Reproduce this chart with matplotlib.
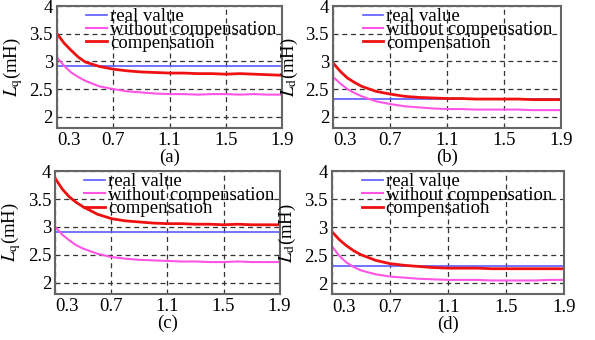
import matplotlib
matplotlib.use("Agg")
import matplotlib.pyplot as plt

plt.rcParams["font.family"] = ["Liberation Serif", "DejaVu Serif"]
plt.rcParams["mathtext.fontset"] = "stix"

x = [0.3, 0.35, 0.4, 0.45, 0.5, 0.6, 0.7, 0.8, 0.9, 1.0, 1.1, 1.2, 1.3, 1.4, 1.5, 1.6, 1.7, 1.8, 1.9]

# (a) Lq
real_a = 2.92
without_a = [3.07, 2.92, 2.80, 2.72, 2.65, 2.55, 2.50, 2.46, 2.44, 2.42, 2.41, 2.41, 2.40, 2.41, 2.41, 2.40, 2.41, 2.40, 2.40]
comp_a = [3.50, 3.33, 3.20, 3.08, 2.99, 2.91, 2.86, 2.83, 2.81, 2.80, 2.79, 2.79, 2.78, 2.78, 2.77, 2.78, 2.77, 2.76, 2.75]

# (b) Ld
real_b = 2.32
without_b = [2.72, 2.60, 2.50, 2.43, 2.37, 2.28, 2.23, 2.19, 2.17, 2.15, 2.14, 2.14, 2.13, 2.13, 2.13, 2.13, 2.12, 2.12, 2.12]
comp_b = [2.97, 2.82, 2.70, 2.62, 2.55, 2.46, 2.41, 2.37, 2.35, 2.34, 2.33, 2.33, 2.32, 2.32, 2.32, 2.32, 2.31, 2.31, 2.31]

# (c) Lq
real_c = 2.91
without_c = [3.00, 2.86, 2.76, 2.67, 2.61, 2.52, 2.46, 2.43, 2.41, 2.40, 2.39, 2.38, 2.38, 2.37, 2.37, 2.38, 2.37, 2.37, 2.37]
comp_c = [3.87, 3.68, 3.54, 3.44, 3.36, 3.23, 3.15, 3.11, 3.09, 3.07, 3.06, 3.06, 3.05, 3.05, 3.04, 3.05, 3.04, 3.04, 3.04]

# (d) Ld
real_d = 2.31
without_d = [2.66, 2.49, 2.37, 2.29, 2.23, 2.16, 2.12, 2.10, 2.08, 2.07, 2.06, 2.06, 2.06, 2.05, 2.05, 2.05, 2.05, 2.06, 2.06]
comp_d = [2.92, 2.78, 2.67, 2.58, 2.51, 2.41, 2.35, 2.32, 2.30, 2.28, 2.27, 2.27, 2.27, 2.26, 2.26, 2.26, 2.26, 2.26, 2.26]

xticks = [0.3, 0.7, 1.1, 1.5, 1.9]
yticks = [2, 2.5, 3, 3.5, 4]
ytick_labels = ["2", "2.5", "3", "3.5", "4"]

panels = [
    ("(a)", r"$L_\mathrm{q}$(mH)", real_a, without_a, comp_a, [0.096, 0.624, 0.378, 0.358]),
    ("(b)", r"$L_\mathrm{d}$(mH)", real_b, without_b, comp_b, [0.560, 0.624, 0.383, 0.358]),
    ("(c)", r"$L_\mathrm{q}$(mH)", real_c, without_c, comp_c, [0.093, 0.136, 0.377, 0.360]),
    ("(d)", r"$L_\mathrm{d}$(mH)", real_d, without_d, comp_d, [0.558, 0.134, 0.390, 0.362]),
]

fig = plt.figure(figsize=(5.95, 3.4), dpi=100)

for tag, ylab, real, without, comp, rect in panels:
    ax = fig.add_axes(rect)
    ax.plot(x, [real] * len(x), color="#5a5aff", lw=1.2, label="real value")
    ax.plot(x, without, color="#ff55e6", lw=1.5, label="without compensation")
    ax.plot(x, comp, color="#ee1111", lw=2.0, label="compensation")
    ax.set_xlim(0.3, 1.9)
    ax.set_ylim(1.8, 4)
    ax.set_xticks(xticks)
    ax.set_xticklabels([str(t) for t in xticks])
    ax.set_yticks(yticks)
    ax.set_yticklabels(ytick_labels)
    ax.xaxis.get_ticklabels()[0].set_horizontalalignment("left")
    ax.tick_params(length=0, labelsize=13.5, pad=3)
    ax.grid(True, color="#333333", ls=(0, (4, 3)), lw=0.9)
    for s in ax.spines.values():
        s.set_color("#666666")
        s.set_linewidth(1.5)
    ax.set_ylabel(ylab, fontsize=13.5)
    ax.yaxis.set_label_coords(-0.145, 0.5)
    ax.set_xlabel(tag, fontsize=13.5, labelpad=0)
    ax.legend(frameon=False, loc="upper left", bbox_to_anchor=(0.13, 0.985),
              fontsize=13.5, handlelength=1.1, handletextpad=0.15,
              labelspacing=-0.2, borderaxespad=0, borderpad=0)

fig.savefig("out.png", dpi=100)
